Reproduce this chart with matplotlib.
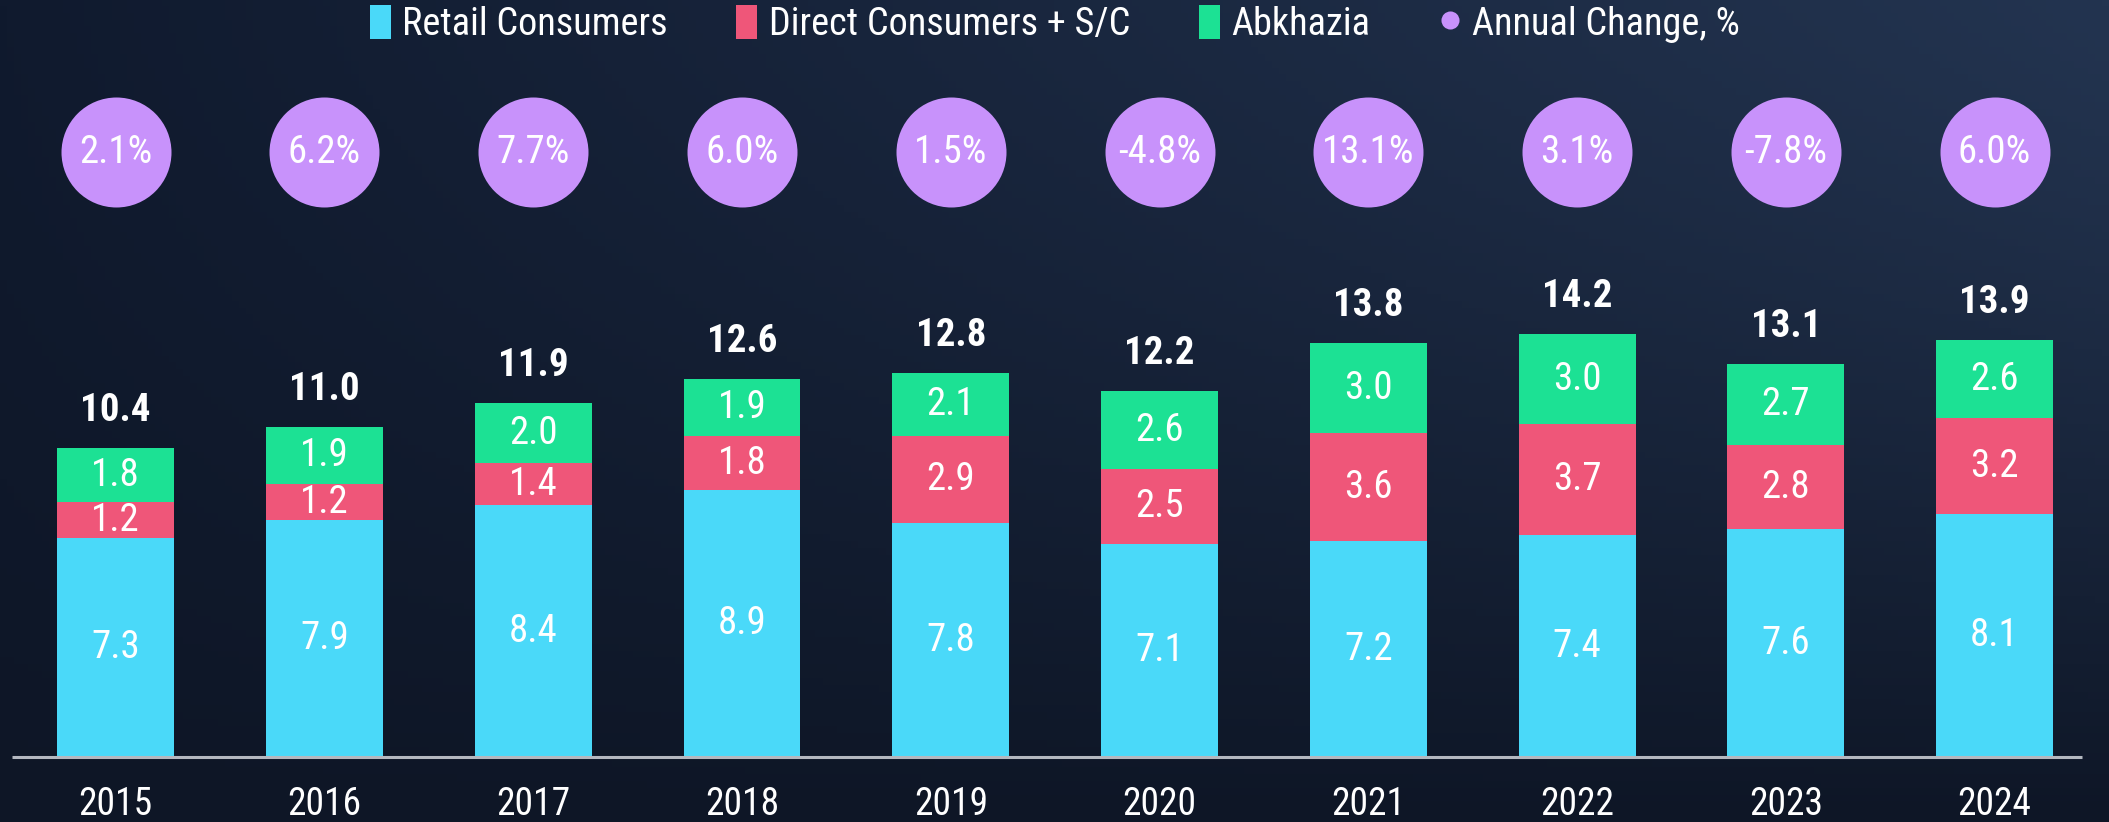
import numpy as np
import matplotlib
matplotlib.use("Agg")
import matplotlib.pyplot as plt
from matplotlib.patches import Patch
from matplotlib.lines import Line2D
from matplotlib import font_manager

years = ["2015", "2016", "2017", "2018", "2019", "2020", "2021", "2022", "2023", "2024"]
retail = [7.3, 7.9, 8.4, 8.9, 7.8, 7.1, 7.2, 7.4, 7.6, 8.1]
direct = [1.2, 1.2, 1.4, 1.8, 2.9, 2.5, 3.6, 3.7, 2.8, 3.2]
abkhazia = [1.8, 1.9, 2.0, 1.9, 2.1, 2.6, 3.0, 3.0, 2.7, 2.6]
totals = [10.4, 11.0, 11.9, 12.6, 12.8, 12.2, 13.8, 14.2, 13.1, 13.9]
annual_change = ["2.1%", "6.2%", "7.7%", "6.0%", "1.5%", "-4.8%", "13.1%", "3.1%", "-7.8%", "6.0%"]

C_RETAIL = "#4ad9f9"
C_DIRECT = "#ef5679"
C_ABKH = "#1ce194"
C_CIRCLE = "#c892fb"

names = {f.name for f in font_manager.fontManager.ttflist}
fams = [f for f in ["Roboto Condensed", "Liberation Sans Narrow", "Roboto", "DejaVu Sans"] if f in names]
plt.rcParams["font.family"] = fams

W, H, DPI = 2109, 822, 100
fig = plt.figure(figsize=(W / DPI, H / DPI), dpi=DPI)

# background gradient
bg = fig.add_axes([0, 0, 1, 1])
gx = np.linspace(0, 1, 300)[None, :]
gy = np.linspace(0, 1, 120)[:, None]
top_l = np.array([0x10, 0x1a, 0x2e]) / 255
top_r = np.array([0x23, 0x34, 0x50]) / 255
bot = np.array([0x0e, 0x16, 0x26]) / 255
horiz = top_l[None, None, :] * (1 - gx[..., None]) + top_r[None, None, :] * gx[..., None]
img = horiz * (1 - gy[..., None] ** 1.3) + bot[None, None, :] * (gy[..., None] ** 1.3)
bg.imshow(img, aspect="auto", extent=[0, 1, 0, 1], origin="upper")
bg.axis("off")

ax = fig.add_axes([0, 0, 1, 1])
ax.set_facecolor("none")
ax.axis("off")

x = np.arange(len(years))
px_per_unit = 30.0
x0_px, x9_px = 115.7, 1994.6
upx = 9 / (x9_px - x0_px)
ax.set_xlim(-x0_px * upx, 9 + (W - x9_px) * upx)
base_px = 65
ax.set_ylim(-base_px / px_per_unit, (H - base_px) / px_per_unit)

bw = 0.56
retail_a = np.array(retail)
direct_a = np.array(direct)
abk_a = np.array(abkhazia)
ax.bar(x, retail_a, bw, color=C_RETAIL, zorder=2)
ax.bar(x, direct_a, bw, bottom=retail_a, color=C_DIRECT, zorder=2)
ax.bar(x, abk_a, bw, bottom=retail_a + direct_a, color=C_ABKH, zorder=2)

lab_fs = 28
for i in range(len(years)):
    ax.text(x[i], retail[i] / 2, f"{retail[i]:.1f}", ha="center", va="center",
            color="white", fontsize=lab_fs, zorder=3)
    ax.text(x[i], retail[i] + direct[i] / 2, f"{direct[i]:.1f}", ha="center", va="center",
            color="white", fontsize=lab_fs, zorder=3)
    ax.text(x[i], retail[i] + direct[i] + abkhazia[i] / 2, f"{abkhazia[i]:.1f}", ha="center",
            va="center", color="white", fontsize=lab_fs, zorder=3)
    top = retail[i] + direct[i] + abkhazia[i]
    ax.text(x[i], top + 1.25, f"{totals[i]:.1f}", ha="center", va="center",
            color="white", fontsize=lab_fs, fontweight="bold", zorder=3)
    ax.text(x[i], -1.57, years[i], ha="center", va="center", color="white",
            fontsize=27, zorder=3)

# annual change bubbles
circ_y = (H - 152 - base_px) / px_per_unit
ax.scatter(x, [circ_y] * len(x), s=(110 * 72 / DPI) ** 2, color=C_CIRCLE, zorder=2,
           linewidths=0)
for i, t in enumerate(annual_change):
    ax.text(x[i], circ_y, t, ha="center", va="center", color="white",
            fontsize=lab_fs, zorder=3)

# baseline
ax.plot([12 * upx + ax.get_xlim()[0], 2082 * upx + ax.get_xlim()[0]], [0, 0],
        color="#b4b8c0", lw=2.2, zorder=4, solid_capstyle="butt")

handles = [
    Patch(facecolor=C_RETAIL, label="Retail Consumers"),
    Patch(facecolor=C_DIRECT, label="Direct Consumers + S/C"),
    Patch(facecolor=C_ABKH, label="Abkhazia"),
    Line2D([], [], marker="o", ls="none", markersize=13, markerfacecolor=C_CIRCLE,
           markeredgewidth=0, label="Annual Change, %"),
]
leg = fig.legend(handles=handles, loc="center", bbox_to_anchor=(0.5, 1 - 24 / H), ncol=4,
                 frameon=False, fontsize=27.5, labelcolor="white", handlelength=0.55,
                 handleheight=1.0, handletextpad=0.3, columnspacing=1.8)

fig.savefig("out.png", dpi=DPI)
